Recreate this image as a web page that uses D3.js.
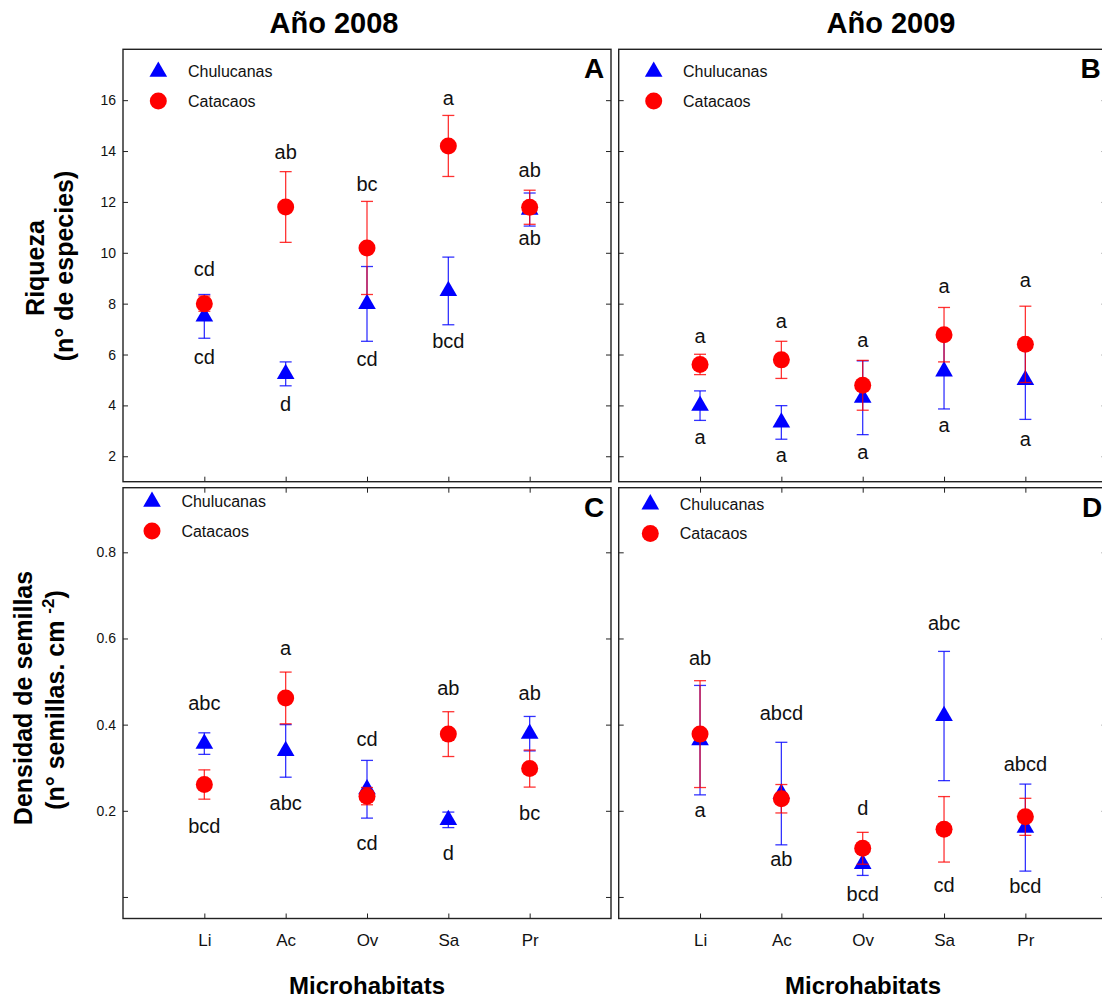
<!DOCTYPE html>
<html>
<head>
<meta charset="utf-8">
<script src="https://cdn.jsdelivr.net/npm/d3@7"></script>
<style>
  html, body { margin: 0; padding: 0; background: #fff; }
  svg { display: block; font-family: "Liberation Sans", Arial, Helvetica, sans-serif; }
</style>
</head>
<body>
<svg id="chart" width="1102" height="1001"></svg>
<script>
// Microhabitat categories
const categories = ["Li", "Ac", "Ov", "Sa", "Pr"];
const seriesNames = ["Chulucanas", "Catacaos"];

// Riqueza (n° de especies), 2008
const riq2008Chul    = [7.5, 5.24, 7.99, 8.5, 11.7];
const riq2008ChulErr = [0.86, 0.47, 1.47, 1.33, 0.65];
const riq2008Cat     = [8.0, 11.8, 10.19, 14.2, 11.79];
const riq2008CatErr  = [0.3, 1.39, 1.83, 1.2, 0.67];

// Riqueza (n° de especies), 2009
const riq2009Chul    = [3.99, 3.33, 4.3, 5.34, 5.0];
const riq2009ChulErr = [0.58, 0.66, 1.45, 1.48, 1.55];
const riq2009Cat     = [5.61, 5.79, 4.79, 6.78, 6.4];
const riq2009CatErr  = [0.4, 0.73, 0.98, 1.07, 1.5];

// Densidad de semillas (n° semillas · cm-2), 2008
const den2008Chul    = [0.356, 0.339, 0.25, 0.179, 0.379];
const den2008ChulErr = [0.025, 0.061, 0.067, 0.018, 0.04];
const den2008Cat     = [0.261, 0.462, 0.234, 0.378, 0.298];
const den2008CatErr  = [0.034, 0.06, 0.02, 0.052, 0.043];

// Densidad de semillas, 2009
const den2009Chul    = [0.364, 0.24, 0.077, 0.42, 0.161];
const den2009ChulErr = [0.127, 0.119, 0.027, 0.15, 0.101];
const den2009Cat     = [0.378, 0.228, 0.113, 0.157, 0.186];
const den2009CatErr  = [0.124, 0.033, 0.037, 0.076, 0.043];

// Significance letters (upper and lower group per microhabitat) and their heights
const letA_top = ["cd", "ab", "bc", "a", "ab"];
const letA_topY = [9.3, 13.9, 12.64, 16.0, 13.18];
const letA_bot = ["cd", "d", "cd", "bcd", "ab"];
const letA_botY = [5.85, 4.0, 5.74, 6.46, 10.5];

const letB_top = ["a", "a", "a", "a", "a"];
const letB_topY = [6.66, 7.25, 6.52, 8.64, 8.87];
const letB_bot = ["a", "a", "a", "a", "a"];
const letB_botY = [2.69, 1.97, 2.1, 3.15, 2.63];

const letC_top = ["abc", "a", "cd", "ab", "ab"];
const letC_topY = [0.446, 0.574, 0.363, 0.481, 0.47];
const letC_bot = ["bcd", "abc", "cd", "d", "bc"];
const letC_botY = [0.161, 0.215, 0.121, 0.097, 0.192];

const letD_top = ["ab", "abcd", "d", "abc", "abcd"];
const letD_topY = [0.55, 0.422, 0.202, 0.632, 0.304];
const letD_bot = ["a", "ab", "bcd", "cd", "bcd"];
const letD_botY = [0.197, 0.084, 0.002, 0.024, 0.021];

// Axis ticks
const riqTicks = [2, 4, 6, 8, 10, 12, 14, 16];
const denTicks = [0, 0.2, 0.4, 0.6, 0.8];

const BLUE = "#0000ff", RED = "#ff0000";
const svg = d3.select("#chart");

const PW = 488; // panel width
const rowRiq = { top: 49.3, bottom: 481.7, domain: [1, 18], ticks: riqTicks,
                 fmt: d => String(d) };
const rowDen = { top: 487.7, bottom: 918.5, domain: [-0.05, 0.95], ticks: denTicks,
                 fmt: d => d === 0 ? "" : d3.format(".1f")(d) };

const panels = [
  { id: "A", x0: 123, row: rowRiq, chul: riq2008Chul, chulErr: riq2008ChulErr, cat: riq2008Cat, catErr: riq2008CatErr,
    top: letA_top, topY: letA_topY, bot: letA_bot, botY: letA_botY,
    yLabels: true, xLabels: false, topTicks: false, leg: [35.3, 22.4, 65], letter: [594, 78] },
  { id: "B", x0: 618.7, row: rowRiq, chul: riq2009Chul, chulErr: riq2009ChulErr, cat: riq2009Cat, catErr: riq2009CatErr,
    top: letB_top, topY: letB_topY, bot: letB_bot, botY: letB_botY,
    yLabels: false, xLabels: false, topTicks: false, leg: [35, 22.4, 64.3], letter: [1090.5, 78] },
  { id: "C", x0: 123, row: rowDen, chul: den2008Chul, chulErr: den2008ChulErr, cat: den2008Cat, catErr: den2008CatErr,
    top: letC_top, topY: letC_topY, bot: letC_bot, botY: letC_botY,
    yLabels: true, xLabels: true, topTicks: true, leg: [29, 14, 58.4], letter: [594, 516.7] },
  { id: "D", x0: 618.7, row: rowDen, chul: den2009Chul, chulErr: den2009ChulErr, cat: den2009Cat, catErr: den2009CatErr,
    top: letD_top, topY: letD_topY, bot: letD_bot, botY: letD_botY,
    yLabels: false, xLabels: true, topTicks: true, leg: [31.6, 16.6, 61], letter: [1092, 516.7] }
];

const triSym = d3.symbol().type(d3.symbolTriangle).size(135);
const cirSym = d3.symbol().type(d3.symbolCircle).size(227);

panels.forEach(p => {
  const g = svg.append("g");
  const x = d3.scalePoint().domain(categories).range([p.x0, p.x0 + PW]).padding(1);
  const y = d3.scaleLinear().domain(p.row.domain).range([p.row.bottom, p.row.top]);

  // Axes (ticks pointing inward on every side)
  const styleAxis = (sel, keepText) => {
    sel.select(".domain").remove();
    sel.selectAll(".tick line").attr("stroke", "#222").attr("stroke-width", 1);
    if (!keepText) sel.selectAll(".tick text").remove();
  };
  g.append("g").attr("transform", `translate(${p.x0},0)`)
    .call(d3.axisLeft(y).tickValues(p.row.ticks).tickSize(-5).tickPadding(7).tickFormat(p.row.fmt))
    .call(s => styleAxis(s, p.yLabels))
    .call(s => s.selectAll(".tick text").attr("font-size", 14).attr("fill", "#111")
      .attr("font-family", "Liberation Sans, Arial, sans-serif"));
  g.append("g").attr("transform", `translate(${p.x0 + PW},0)`)
    .call(d3.axisRight(y).tickValues(p.row.ticks).tickSize(-5))
    .call(s => styleAxis(s, false));
  g.append("g").attr("transform", `translate(0,${p.row.bottom})`)
    .call(d3.axisBottom(x).tickSize(-5).tickPadding(15))
    .call(s => styleAxis(s, p.xLabels))
    .call(s => s.selectAll(".tick text").attr("font-size", 17).attr("fill", "#111")
      .attr("font-family", "Liberation Sans, Arial, sans-serif"));
  if (p.topTicks) {
    g.append("g").attr("transform", `translate(0,${p.row.top})`)
      .call(d3.axisTop(x).tickSize(-5))
      .call(s => styleAxis(s, false));
  }

  // Frame
  g.append("rect").attr("x", p.x0).attr("y", p.row.top)
    .attr("width", PW).attr("height", p.row.bottom - p.row.top)
    .attr("fill", "none").attr("stroke", "#222").attr("stroke-width", 1.4);

  // Error bars + markers for one series
  const drawSeries = (vals, errs, color, sym) => {
    const eb = g.append("g").attr("stroke", color).attr("stroke-width", 1.3)
      .attr("stroke-opacity", 0.8).attr("fill", "none");
    categories.forEach((c, i) => {
      const cx = x(c), yh = y(vals[i] + errs[i]), yl = y(vals[i] - errs[i]);
      eb.append("line").attr("x1", cx).attr("x2", cx).attr("y1", yh).attr("y2", yl);
      eb.append("line").attr("x1", cx - 6).attr("x2", cx + 6).attr("y1", yh).attr("y2", yh);
      eb.append("line").attr("x1", cx - 6).attr("x2", cx + 6).attr("y1", yl).attr("y2", yl);
    });
    g.append("g").selectAll("path").data(vals).join("path")
      .attr("transform", (d, i) => `translate(${x(categories[i])},${y(d)})`)
      .attr("d", sym).attr("fill", color);
  };
  drawSeries(p.chul, p.chulErr, BLUE, triSym);
  drawSeries(p.cat, p.catErr, RED, cirSym);

  // Significance letters
  const lab = g.append("g").attr("font-size", 20).attr("fill", "#111").attr("text-anchor", "middle")
    .attr("dominant-baseline", "middle");
  categories.forEach((c, i) => {
    lab.append("text").attr("x", x(c)).attr("y", y(p.topY[i])).text(p.top[i]);
    lab.append("text").attr("x", x(c)).attr("y", y(p.botY[i])).text(p.bot[i]);
  });

  // Legend
  const [lx, ly, tx] = p.leg;
  const leg = g.append("g").attr("font-size", 16).attr("fill", "#111");
  leg.append("path").attr("d", triSym).attr("fill", BLUE)
    .attr("transform", `translate(${p.x0 + lx},${p.row.top + ly})`);
  leg.append("path").attr("d", cirSym).attr("fill", RED)
    .attr("transform", `translate(${p.x0 + lx},${p.row.top + ly + 29.3})`);
  leg.append("text").attr("x", p.x0 + tx).attr("y", p.row.top + ly)
    .attr("dominant-baseline", "central").text(seriesNames[0]);
  leg.append("text").attr("x", p.x0 + tx).attr("y", p.row.top + ly + 29.3)
    .attr("dominant-baseline", "central").text(seriesNames[1]);

  // Panel letter
  g.append("text").attr("x", p.letter[0]).attr("y", p.letter[1])
    .attr("text-anchor", "middle").attr("font-size", 28).attr("font-weight", "bold")
    .attr("fill", "#000").text(p.id);
});

// Column titles
const titles = svg.append("g").attr("font-size", 29).attr("font-weight", "bold")
  .attr("text-anchor", "middle").attr("fill", "#000");
titles.append("text").attr("x", 334).attr("y", 33).text("Año 2008");
titles.append("text").attr("x", 891).attr("y", 33).text("Año 2009");

// X axis titles
const xt = svg.append("g").attr("font-size", 24).attr("font-weight", "bold")
  .attr("text-anchor", "middle").attr("fill", "#000");
xt.append("text").attr("x", 367).attr("y", 994).text("Microhabitats");
xt.append("text").attr("x", 863).attr("y", 994).text("Microhabitats");

// Y axis titles
const yt = svg.append("g").attr("font-size", 25).attr("font-weight", "bold")
  .attr("text-anchor", "middle").attr("fill", "#000");
yt.append("text").attr("transform", "translate(44,268) rotate(-90)").text("Riqueza");
yt.append("text").attr("transform", "translate(73,266) rotate(-90)").text("(n° de especies)");
yt.append("text").attr("transform", "translate(32,698) rotate(-90)").text("Densidad de semillas");
const sub = yt.append("text").attr("transform", "translate(64,700) rotate(-90)");
sub.append("tspan").text("(n° semillas. cm ");
sub.append("tspan").attr("font-size", 17).attr("dy", -10).text("-2");
sub.append("tspan").attr("dy", 10).text(")");
</script>
</body>
</html>
